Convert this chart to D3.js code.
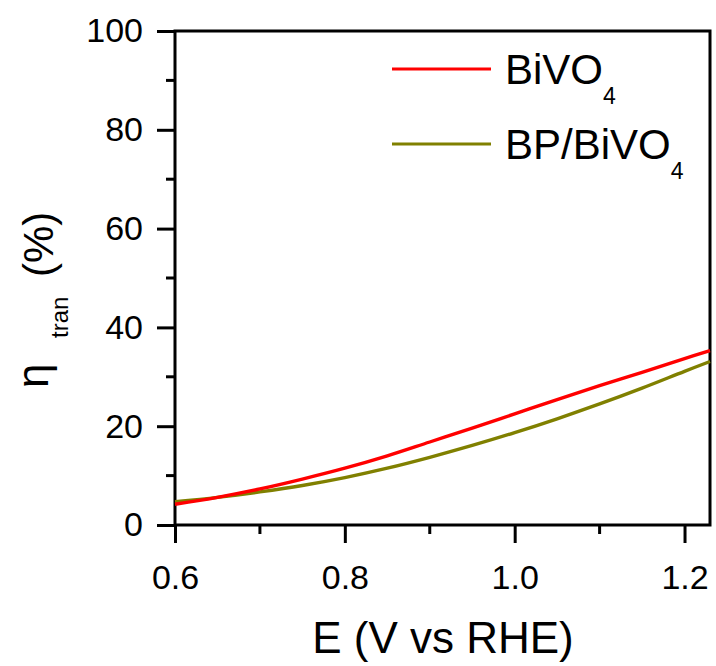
<!DOCTYPE html>
<html>
<head>
<meta charset="utf-8">
<script src="https://cdn.jsdelivr.net/npm/d3@7"></script>
<style>
  body { margin: 0; background: #fff; }
  text { font-family: "Liberation Sans", Arial, sans-serif; fill: #000; }
</style>
</head>
<body>
<div id="chart"></div>
<script>

// potential (V vs RHE)
var potential = [0.60, 0.65, 0.70, 0.75, 0.80, 0.85, 0.90, 0.95, 1.00, 1.05, 1.10, 1.15, 1.20, 1.23];
// transfer efficiency (%)
var bivo4   = [4.2, 5.6, 7.3, 9.3, 11.5, 14.0, 16.8, 19.6, 22.5, 25.4, 28.2, 30.9, 33.7, 35.3];
var bpBivo4 = [4.7, 5.6, 6.7, 8.0, 9.6, 11.5, 13.7, 16.1, 18.7, 21.5, 24.5, 27.7, 31.1, 33.1];

var xTicks = [0.6, 0.8, 1.0, 1.2];
var yTicks = [0, 20, 40, 60, 80, 100];

var seriesNames = ["BiVO", "BP/BiVO"];
var seriesColors = ["#ff0000", "#808000"];

function draw(){

	var width = 716, height = 666;
	var mLeft = 175, mRight = 710, mTop = 31, mBottom = 525;

	var svg = d3.select("#chart")
		.append("svg")
		.attr("width", width)
		.attr("height", height);

	var x = d3.scaleLinear().domain([0.6, 1.23]).range([mLeft, mRight]);
	var y = d3.scaleLinear().domain([0, 100]).range([mBottom, mTop]);

	// minor ticks
	var xMinor = [0.7, 0.9, 1.1];
	var yMinor = [10, 30, 50, 70, 90];

	svg.append("g")
		.attr("transform", "translate(0," + mBottom + ")")
		.selectAll("line").data(xMinor).enter().append("line")
		.attr("x1", function(d){ return x(d); })
		.attr("x2", function(d){ return x(d); })
		.attr("y1", 0).attr("y2", 9)
		.attr("stroke", "#000").attr("stroke-width", 3);

	svg.append("g")
		.attr("transform", "translate(" + mLeft + ",0)")
		.selectAll("line").data(yMinor).enter().append("line")
		.attr("y1", function(d){ return y(d); })
		.attr("y2", function(d){ return y(d); })
		.attr("x1", 0).attr("x2", -9)
		.attr("stroke", "#000").attr("stroke-width", 3);

	var xAxis = svg.append("g")
		.attr("transform", "translate(0," + mBottom + ")")
		.call(d3.axisBottom(x).tickValues(xTicks).tickSize(18).tickPadding(22)
			.tickFormat(d3.format(".1f")));

	var yAxis = svg.append("g")
		.attr("transform", "translate(" + mLeft + ",0)")
		.call(d3.axisLeft(y).tickValues(yTicks).tickSize(18).tickPadding(14));

	[xAxis, yAxis].forEach(function(g){
		g.attr("font-size", 34).attr("font-family", "'Liberation Sans', Arial, sans-serif");
		g.select(".domain").remove();
		g.selectAll(".tick line").attr("stroke", "#000").attr("stroke-width", 3);
		g.selectAll(".tick text").attr("fill", "#000");
	});

	// frame
	svg.append("rect")
		.attr("x", mLeft).attr("y", mTop)
		.attr("width", mRight - mLeft).attr("height", mBottom - mTop)
		.attr("fill", "none").attr("stroke", "#000").attr("stroke-width", 3);

	// curves
	var line = d3.line()
		.x(function(d){ return x(d[0]); })
		.y(function(d){ return y(d[1]); })
		.curve(d3.curveCatmullRom);

	var allSeries = [bivo4, bpBivo4];

	// olive first, red on top
	[1, 0].forEach(function(idx){
		svg.append("path")
			.datum(potential.map(function(p, k){ return [p, allSeries[idx][k]]; }))
			.attr("d", line)
			.attr("fill", "none")
			.attr("stroke", seriesColors[idx])
			.attr("stroke-width", 3.4);
	});

	// legend
	var legend = svg.append("g");
	seriesNames.forEach(function(name, i){
		var ly = 69 + i * 75;
		legend.append("line")
			.attr("x1", 392).attr("x2", 491)
			.attr("y1", ly).attr("y2", ly)
			.attr("stroke", seriesColors[i]).attr("stroke-width", 3);
		var t = legend.append("text")
			.attr("x", 505).attr("y", ly + 15)
			.attr("font-size", "42px");
		t.append("tspan").text(name);
		t.append("tspan").attr("font-size", "23px").attr("dy", 20).text("4");
	});

	// axis titles
	svg.append("text")
		.attr("x", 443).attr("y", 653)
		.attr("text-anchor", "middle")
		.attr("font-size", "44px")
		.text("E (V vs RHE)");

	svg.append("text")
		.attr("transform", "translate(48,388) rotate(-90)")
		.attr("font-size", "44px")
		.text("η");
	svg.append("text")
		.attr("transform", "translate(68,338) rotate(-90)")
		.attr("font-size", "24px")
		.text("tran");
	svg.append("text")
		.attr("transform", "translate(53,277) rotate(-90)")
		.attr("font-size", "42px")
		.text("(%)");
}

draw();

</script>
</body>
</html>
